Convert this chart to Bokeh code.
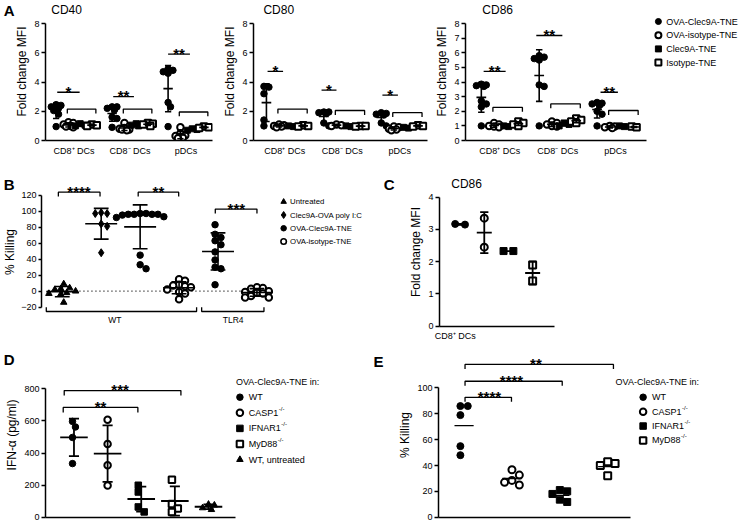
import math
from bokeh.plotting import figure
from bokeh.layouts import row, column
from bokeh.models import Range1d, FixedTicker, LinearAxis
from bokeh.core.properties import value
from bokeh.embed import file_html
from bokeh.resources import INLINE

FONT = "Liberation Sans"

# ---------------- data ----------------
a_categories = ["CD8⁺ DCs", "CD8⁻ DCs", "pDCs"]
a_series = ["OVA-Clec9A-TNE", "OVA-isotype-TNE", "Clec9A-TNE", "Isotype-TNE"]

cd40_ova_clec9a = [[2.45, 2.4, 2.3, 2.2, 2.05, 1.8, 0.95], [2.3, 2.3, 2.2, 2.1, 1.6, 1.5, 0.9], [4.9, 4.8, 4.7, 4.6, 2.6, 2.3, 0.95]]
cd40_ova_isotype = [[1.25, 1.2, 1.1, 1.0, 0.95, 0.9], [1.2, 0.95, 0.85, 0.8, 0.75, 0.75, 0.7], [0.9, 0.5, 0.35, 0.3, 0.25, 0.2, 0.15]]
cd40_clec9a = [[1.15, 1.05, 1.0], [1.15, 1.1, 1.05, 1.0], [0.8, 0.75, 0.7]]
cd40_isotype = [[1.1, 1.05, 1.0], [1.2, 1.15, 1.1, 1.0], [0.95, 0.9, 0.85]]

cd80_ova_clec9a = [[3.7, 3.65, 3.2, 1.4, 1.0], [1.95, 1.95, 1.9, 1.85, 1.2, 1.0], [1.9, 1.85, 1.8, 1.75, 1.2, 1.0]]
cd80_ova_isotype = [[1.1, 1.05, 1.0, 0.95, 0.9], [1.1, 1.05, 1.0], [0.95, 0.9, 0.8, 0.75, 0.7]]
cd80_clec9a = [[1.0, 0.95], [1.0, 0.95], [0.9, 0.85]]
cd80_isotype = [[1.05, 1.0, 0.95], [1.0, 1.0, 0.95], [1.05, 1.0, 0.95]]

cd86_ova_clec9a = [[3.85, 3.8, 3.75, 3.7, 2.7, 2.5, 2.3, 1.0], [5.8, 5.7, 5.6, 5.5, 3.8, 3.7, 1.0], [2.6, 2.55, 2.5, 2.4, 2.0, 1.8, 1.0]]
cd86_ova_isotype = [[1.2, 1.1, 1.0, 0.95, 0.9], [1.3, 1.2, 1.1, 1.0, 0.95], [1.0, 0.95, 0.9, 0.85]]
cd86_clec9a = [[1.0, 0.95], [1.2, 1.1, 1.0], [1.0, 0.95]]
cd86_isotype = [[1.3, 1.2, 1.1, 1.0], [1.5, 1.4, 1.3, 1.2], [0.95, 0.9]]

a_stars = [["*", "**", "**"], ["*", "*", "*"], ["**", "**", "**"]]

b_series = ["Untreated", "Clec9A-OVA poly I:C", "OVA-Clec9A-TNE", "OVA-isotype-TNE"]
b_strains = ["WT", "TLR4"]
b_wt_untreated = [9, 4, 3, 2, 0, -2, -3, -4, -14]
b_wt_polyic = [98, 97, 97, 84, 81, 48]
b_wt_ova_clec9a = [97, 97, 96, 96, 96, 96, 95, 93, 92, 45, 33, 28]
b_wt_ova_isotype = [15, 13, 8, 7, 6, 5, 2, -1, -3, -10]
b_tlr4_ova_clec9a = [83, 71, 67, 63, 58, 49, 39, 30, 28, 8]
b_tlr4_ova_isotype = [5, 4, 3, 0, -1, -2, -3, -6, -8, -8]
b_stars = ["****", "**", "***"]

c_title = "CD86"
c_category = "CD8⁺ DCs"
c_ova_clec9a = [3.15, 3.17]
c_ova_isotype = [3.35, 2.45]
c_clec9a = [2.33, 2.33]
c_isotype = [1.9, 1.4]

d_groups = ["WT", "CASP1", "IFNAR1", "MyD88", "WT, untreated"]
d_wt = [562, 597, 497, 334]
d_casp1 = [607, 456, 323, 197]
d_ifnar1 = [199, 157, 64, 33]
d_myd88 = [234, 83, 54, 33]
d_wt_untreated = [80, 75, 58, 47]
d_stars = ["**", "***"]

e_groups = ["WT", "CASP1", "IFNAR1", "MyD88"]
e_wt = [86, 86, 79, 55, 48]
e_casp1 = [36.7, 32.6, 28.5, 27, 24.9]
e_ifnar1 = [21, 20, 18, 13.6, 11.8]
e_myd88 = [41.5, 40, 43, 32]
e_stars = ["****", "****", "**"]

legend_title = "OVA-Clec9A-TNE in:"
ko_sup = "-/-"
panel_letters = ["A", "B", "C", "D", "E"]

# ---------------- helpers ----------------


def lin(cal, p):
    va, pa, vb, pb = cal
    return va + (p - pa) * (vb - va) / (pb - pa)


def make_fig(box, frame, xcal, ycal):
    x0, y0, x1, y1 = box
    fx0, fy0, fx1, fy1 = frame
    W, H = x1 - x0, y1 - y0
    bl, br, bt, bb = fx0 - x0, x1 - fx1, fy0 - y0, y1 - fy1
    xs, xe = lin(xcal, fx0), lin(xcal, fx1)
    ys, ye = lin(ycal, fy1), lin(ycal, fy0)
    p = figure(width=W, height=H, x_range=Range1d(xs, xe), y_range=Range1d(ys, ye),
               output_backend="svg", toolbar_location=None,
               min_border_left=bl, min_border_right=br, min_border_top=bt, min_border_bottom=bb)
    p.outline_line_color = None
    p.xgrid.visible = False
    p.ygrid.visible = False
    p.background_fill_color = "white"
    p.border_fill_color = "white"
    g = dict(ux=(W - bl - br) / (xe - xs), uy=(H - bt - bb) / (ye - ys), xcal=xcal, ycal=ycal, fx0=fx0)
    return p, g


def style_axis(ax, label=None, tick_out=4, label_standoff=2, lab_size="12px"):
    ax.axis_line_color = "black"
    ax.axis_line_width = 1.5
    ax.major_tick_line_color = "black"
    ax.major_tick_line_width = 1.5
    ax.major_tick_out = tick_out
    ax.major_tick_in = 0
    ax.minor_tick_line_color = None
    ax.major_label_text_font = FONT
    ax.major_label_text_font_size = "9px"
    ax.major_label_text_color = "black"
    ax.major_label_standoff = 2
    if label:
        ax.axis_label = label
        ax.axis_label_text_font = FONT
        ax.axis_label_text_font_size = lab_size
        ax.axis_label_text_font_style = "normal"
        ax.axis_label_text_color = "black"
        ax.axis_label_standoff = label_standoff


def txt(p, xs, ys, texts, size="9px", align="left", baseline="middle", style="normal", **kw):
    p.text(x=xs, y=ys, text=texts, text_font=value(FONT), text_font_size=size,
           text_align=align, text_baseline=baseline, text_font_style=style,
           text_color="black", **kw)


def letter(p, g, inner, right_edge, ry, t):
    # panel letter as the single tick label of an outer, line-less left axis
    yv = lin(g["ycal"], ry)
    axis_x = g["fx0"] - inner
    ax = LinearAxis(ticker=FixedTicker(ticks=[yv]), major_label_overrides={yv: t},
                    axis_line_color=None, major_tick_line_color=None, minor_tick_line_color=None,
                    major_tick_out=0, major_tick_in=0, major_label_standoff=round(axis_x - right_edge),
                    major_label_text_font=FONT, major_label_text_font_size="15px",
                    major_label_text_font_style="bold", major_label_text_color="black")
    p.add_layout(ax, "left")


MK = {
    "fc": dict(marker="circle", fill_color="black", line_color="black", line_width=1),
    "oc": dict(marker="circle", fill_color="white", line_color="black", line_width=2),
    "fs": dict(marker="square", fill_color="black", line_color="black", line_width=1),
    "os": dict(marker="square", fill_color="white", line_color="black", line_width=2),
    "tr": dict(marker="triangle", fill_color="black", line_color="black", line_width=1),
    "di": dict(marker="diamond", fill_color="black", line_color="black", line_width=1),
}


def stats(v):
    n = len(v)
    m = sum(v) / n
    sd = math.sqrt(sum((x - m) ** 2 for x in v) / (n - 1)) if n > 1 else 0.0
    return m, sd


def swarm(vals, ux, uy, d, maxk):
    order = sorted(range(len(vals)), key=lambda i: -vals[i])
    cands = [0]
    for k in range(1, maxk + 1):
        cands += [k, -k]
    placed = []
    offs = [0.0] * len(vals)
    step = d / 2
    for i in order:
        py = vals[i] * uy
        best, bestd = 0.0, -1.0
        for k in cands:
            px = k * step
            md = min([math.hypot(px - qx, py - qy) for qx, qy in placed], default=1e9)
            if md >= d:
                best = px
                break
            if md > bestd:
                bestd, best = md, px
        placed.append((best, py))
        offs[i] = best
    c = (min(offs) + max(offs)) / 2
    return [(o - c) / ux for o in offs]


def dots(p, g, x, vals, mk, size, d, maxk):
    dx = swarm(vals, g["ux"], g["uy"], d, maxk)
    p.scatter(x=[x + o for o in dx], y=vals, size=size, **MK[mk])


def errbar(p, x, vals, hm, hc, lw=1.6, sd=True):
    m, s = stats(vals)
    x0s, x1s, y0s, y1s = [x - hm], [x + hm], [m], [m]
    if sd and s > 0:
        x0s += [x, x - hc, x - hc]
        x1s += [x, x + hc, x + hc]
        y0s += [m - s, m + s, m - s]
        y1s += [m + s, m + s, m - s]
    p.segment(x0=x0s, y0=y0s, x1=x1s, y1=y1s, line_color="black", line_width=lw)


def bracket(p, xa, xb, y, tick, up=False):
    t = tick if up else -tick
    p.multi_line(xs=[[xa, xa, xb, xb]], ys=[[y + t, y, y, y + t]], line_color="black", line_width=1.3)


def stars(p, x, y, s):
    txt(p, [x], [y], [s], size="15px", align="center", baseline="alphabetic", style="bold")


# ---------------- panel A ----------------
A_OFF = [0.0, 1.1, 2.15, 3.2]
A_MK = ["fc", "oc", "fs", "os"]
A_YCAL = (8, 23, 0, 140)


def panel_a(box, frame, xcal, title, title_rx, data4, st, lines, axis_end, yticks):
    p, g = make_fig(box, frame, xcal, A_YCAL)
    style_axis(p.yaxis[0], "Fold change MFI")
    p.yaxis[0].ticker = FixedTicker(ticks=yticks)
    p.yaxis[0].bounds = (0, 8)
    style_axis(p.xaxis[0])
    p.xaxis.major_tick_out = 0
    p.xaxis.major_label_standoff = 5
    tick_pos = [5 * c + 1.6 for c in range(3)]
    p.xaxis.ticker = FixedTicker(ticks=tick_pos)
    p.xaxis.major_label_overrides = {tp: lab for tp, lab in zip(tick_pos, a_categories)}
    p.xaxis.bounds = (p.x_range.start, axis_end)
    for c in range(3):
        for s in range(4):
            vals = data4[s][c]
            x0 = 5 * c + A_OFF[s]
            dots(p, g, x0, vals, A_MK[s], 6.5 if s != 2 else 6, 5.0, 2)
            errbar(p, x0, vals, 0.42, 0.28, lw=1.6)
        ly, la, lb, by = lines[c]
        p.segment(x0=[5 * c + la], y0=[ly], x1=[5 * c + lb], y1=[ly], line_color="black", line_width=1.3)
        stars(p, 5 * c + (la + lb) / 2, ly + 0.05, st[c])
        bracket(p, 5 * c + 1.0, 5 * c + 3.55, by, 0.3)
    txt(p, [lin(xcal, title_rx)], [lin(A_YCAL, 9.5)], [title], size="12px")
    return p, g


a1cal = (0, 50, 1, 61.6)
a1, ga1 = panel_a((0, 0, 220, 175), (39, 2, 212, 140), a1cal, "CD40", 45,
                  [cd40_ova_clec9a, cd40_ova_isotype, cd40_clec9a, cd40_isotype], a_stars[0],
                  [(3.3, 0.1, 2.1, 2.15), (3.0, 0.1, 1.95, 2.15), (5.9, 0.0, 1.95, 1.95)], lin(a1cal, 212), [0, 2, 4, 6, 8])
letter(a1, ga1, 26.4, 15, 10, panel_letters[0])

a2cal = (0, 265, 1, 276.55)
a2, ga2 = panel_a((220, 0, 432, 175), (252, 2, 427, 140), a2cal, "CD80", 262,
                  [cd80_ova_clec9a, cd80_ova_isotype, cd80_clec9a, cd80_isotype], a_stars[1],
                  [(4.73, 0.1, 1.45, 2.15), (3.45, -0.2, 1.1, 2.05), (3.1, 0.1, 1.45, 1.9)], lin(a2cal, 427), [0, 2, 4, 6, 8])

a3cal = (0, 478, 1, 489.7)
a3, ga3 = panel_a((432, 0, 740, 175), (462, 2, 740, 140), a3cal, "CD86", 479,
                  [cd86_ova_clec9a, cd86_ova_isotype, cd86_clec9a, cd86_isotype], a_stars[2],
                  [(4.72, 0.2, 2.1, 2.26), (7.18, -0.25, 2.0, 2.5), (3.3, 0.3, 1.8, 2.05)], lin(a3cal, 645), list(range(0, 9)))
# legend A
for i, (lab, mk) in enumerate(zip(a_series, A_MK)):
    yy = lin(A_YCAL, 21 + 13.7 * i)
    a3.scatter(x=[lin(a3cal, 657)], y=[yy], size=6, **MK[mk])
    txt(a3, [lin(a3cal, 665)], [yy], [lab], size="9px")

# ---------------- panel B ----------------
bxcal = (0, 58, 5, 255)
bycal = (120, 197.3, -20, 326.7)
b, gb = make_fig((0, 175, 380, 350), (37, 177, 380, 349), bxcal, bycal)
style_axis(b.yaxis[0], "% Killing", tick_out=3, label_standoff=1)
b.yaxis[0].ticker = FixedTicker(ticks=list(range(-20, 121, 20)))
b.yaxis[0].bounds = (-20, 120)
b.xaxis.visible = False
b_data = [b_wt_untreated, b_wt_polyic, b_wt_ova_clec9a, b_wt_ova_isotype, b_tlr4_ova_clec9a, b_tlr4_ova_isotype]
b_mk = ["tr", "di", "fc", "oc", "fc", "oc"]
b.line(x=[-0.38, 5.3], y=[0, 0], line_color="black", line_width=1.3, line_dash="1 3")
for i, (vals, mk) in enumerate(zip(b_data, b_mk)):
    dots(b, gb, i, vals, mk, 6.5 if mk != "di" else 8, 6.0, 8)
    errbar(b, i, vals, 0.41, 0.19, lw=1.6)
# significance
bracket(b, -0.1, 0.97, 123.6, 5.4)
stars(b, 0.43, 124.5, b_stars[0])
bracket(b, 1.95, 2.99, 123.6, 5.4)
stars(b, 2.47, 124.5, b_stars[1])
bracket(b, 3.93, 5.0, 102.5, 5.4)
stars(b, 4.47, 103.5, b_stars[2])
# strain brackets
bracket(b, -0.41, 3.45, -25.4, 5.4, up=True)
bracket(b, 3.58, 5.18, -25.4, 5.4, up=True)
txt(b, [1.35, 4.39], [-35.5, -35.5], b_strains, size="8.5px", align="center")
# legend B
b_leg_mk = ["tr", "di", "fc", "oc"]
for i, (lab, mk) in enumerate(zip(b_series, b_leg_mk)):
    yy = lin(bycal, 205 + 15.3 * i)
    b.scatter(x=[lin(bxcal, 282)], y=[yy], size=5.5 if mk != "di" else 7, **MK[mk] if mk != "oc" else dict(MK[mk], line_width=1.6))
    txt(b, [lin(bxcal, 288.5)], [yy], [lab], size="7.8px")
letter(b, gb, 34.4, 17, 183.5, panel_letters[1])

# ---------------- panel C ----------------
cxcal = (0, 454, 3, 528)
cycal = (4, 196.7, 0, 325.7)
c, gc = make_fig((380, 175, 740, 350), (433, 177, 740, 326), cxcal, cycal)
style_axis(c.yaxis[0], "Fold change MFI")
c.yaxis[0].ticker = FixedTicker(ticks=[0, 1, 2, 3, 4])
c.yaxis[0].bounds = (0, 4)
style_axis(c.xaxis[0])
c.xaxis.major_tick_out = 0
c.xaxis.major_label_standoff = 4
c_tick = lin(cxcal, 449)
c.xaxis.ticker = FixedTicker(ticks=[c_tick])
c.xaxis.major_label_overrides = {c_tick: c_category}
c.xaxis.bounds = (c.x_range.start, lin(cxcal, 550))
for i, (vals, mk) in enumerate(zip([c_ova_clec9a, c_ova_isotype, c_clec9a, c_isotype], A_MK)):
    dots(c, gc, i, vals, mk, 7, 10.0, 2)
    errbar(c, i, vals, 0.31, 0.17, lw=1.8)
txt(c, [lin(cxcal, 445)], [lin(cycal, 183)], [c_title], size="12px")
letter(c, gc, 26.4, 395, 183, panel_letters[2])

# ---------------- panel D ----------------
dxcal = (0, 68, 4, 205)
dycal = (800, 388.3, 0, 516.7)
d, gd = make_fig((0, 350, 370, 528), (39, 352, 370, 517), dxcal, dycal)
style_axis(d.yaxis[0], "IFN-α (pg/ml)")
d.yaxis[0].ticker = FixedTicker(ticks=[0, 200, 400, 600, 800])
d.yaxis[0].bounds = (0, 800)
style_axis(d.xaxis[0])
d.xaxis.ticker = FixedTicker(ticks=[])
d.xaxis.major_tick_out = 0
d.xaxis.bounds = (d.x_range.start, lin(dxcal, 233))
d_mk = ["fc", "oc", "fs", "os", "tr"]
for i, (vals, mk) in enumerate(zip([d_wt, d_casp1, d_ifnar1, d_myd88, d_wt_untreated], d_mk)):
    dots(d, gd, i, vals, mk, 6.5, 6.0, 2)
    errbar(d, i, vals, 0.41, 0.15, lw=1.8)
bracket(d, -0.32, 1.9, 684, 31)
stars(d, 0.79, 690, d_stars[0])
bracket(d, -0.29, 3.18, 789, 31)
stars(d, 1.37, 795, d_stars[1])
txt(d, [lin(dxcal, 233)], [lin(dycal, 381.7)], [legend_title], size="9px")
W_ARIAL = {"C": 722, "A": 667, "S": 667, "P": 667, "1": 556, "I": 278, "F": 611, "N": 722, "R": 722,
           "M": 833, "y": 500, "D": 722, "8": 556, "T": 611, "W": 944, ",": 278, " ": 278, "u": 556,
           "n": 556, "t": 278, "r": 333, "e": 556, "a": 556, "d": 556}


def tw(s, fs):
    return sum(W_ARIAL.get(ch, 556) for ch in s) / 1000 * fs


def ko_legend(p, xcal, ycal, mx, tx, rows_y, labels, mks):
    for i, (lab, mk) in enumerate(zip(labels, mks)):
        yy = lin(ycal, rows_y[i])
        p.scatter(x=[lin(xcal, mx)], y=[yy], size=6.5, **MK[mk])
        txt(p, [lin(xcal, tx)], [yy], [lab], size="9px")
        if i in (1, 2, 3):
            txt(p, [lin(xcal, tx)], [yy], [ko_sup], size="6px", x_offset=tw(lab, 9) + 0.5, y_offset=-4)


ko_legend(d, dxcal, dycal, 237, 246, [396.7 + 15.6 * i for i in range(5)], d_groups, d_mk)
letter(d, gd, 36.4, 15, 359, panel_letters[3])

# ---------------- panel E ----------------
excal = (0, 459, 3, 605)
eycal = (100, 387.7, 0, 517.7)
e, ge = make_fig((370, 350, 740, 528), (433, 352, 740, 518), excal, eycal)
style_axis(e.yaxis[0], "% Killing")
e.yaxis[0].ticker = FixedTicker(ticks=[0, 20, 40, 60, 80, 100])
e.yaxis[0].bounds = (0, 100)
style_axis(e.xaxis[0])
e.xaxis.ticker = FixedTicker(ticks=[])
e.xaxis.major_tick_out = 0
e.xaxis.bounds = (e.x_range.start, lin(excal, 628))
e_mk = ["fc", "oc", "fs", "os"]
for i, (vals, mk) in enumerate(zip([e_wt, e_casp1, e_ifnar1, e_myd88], e_mk)):
    dots(e, ge, i, vals, mk, 7, 7.5, 3)
    errbar(e, i, vals, 0.2, 0.0, lw=1.3, sd=False)
bracket(e, 0.02, 0.99, 92.8, 3.5)
stars(e, 0.53, 93.5, e_stars[0])
bracket(e, 0.02, 2.05, 105.2, 3.5)
stars(e, 0.99, 106, e_stars[1])
bracket(e, 0.02, 3.12, 118.2, 3.5)
stars(e, 1.5, 119, e_stars[2])
txt(e, [lin(excal, 613)], [lin(eycal, 382)], [legend_title], size="9px")
ko_legend(e, excal, eycal, 641, 650, [397 + 14.5 * i for i in range(4)], e_groups, e_mk)
letter(e, ge, 36.4, 385, 361, panel_letters[4])

layout = column(row(a1, a2, a3), row(b, c), row(d, e))
open("out.html", "w").write(file_html(layout, INLINE))
